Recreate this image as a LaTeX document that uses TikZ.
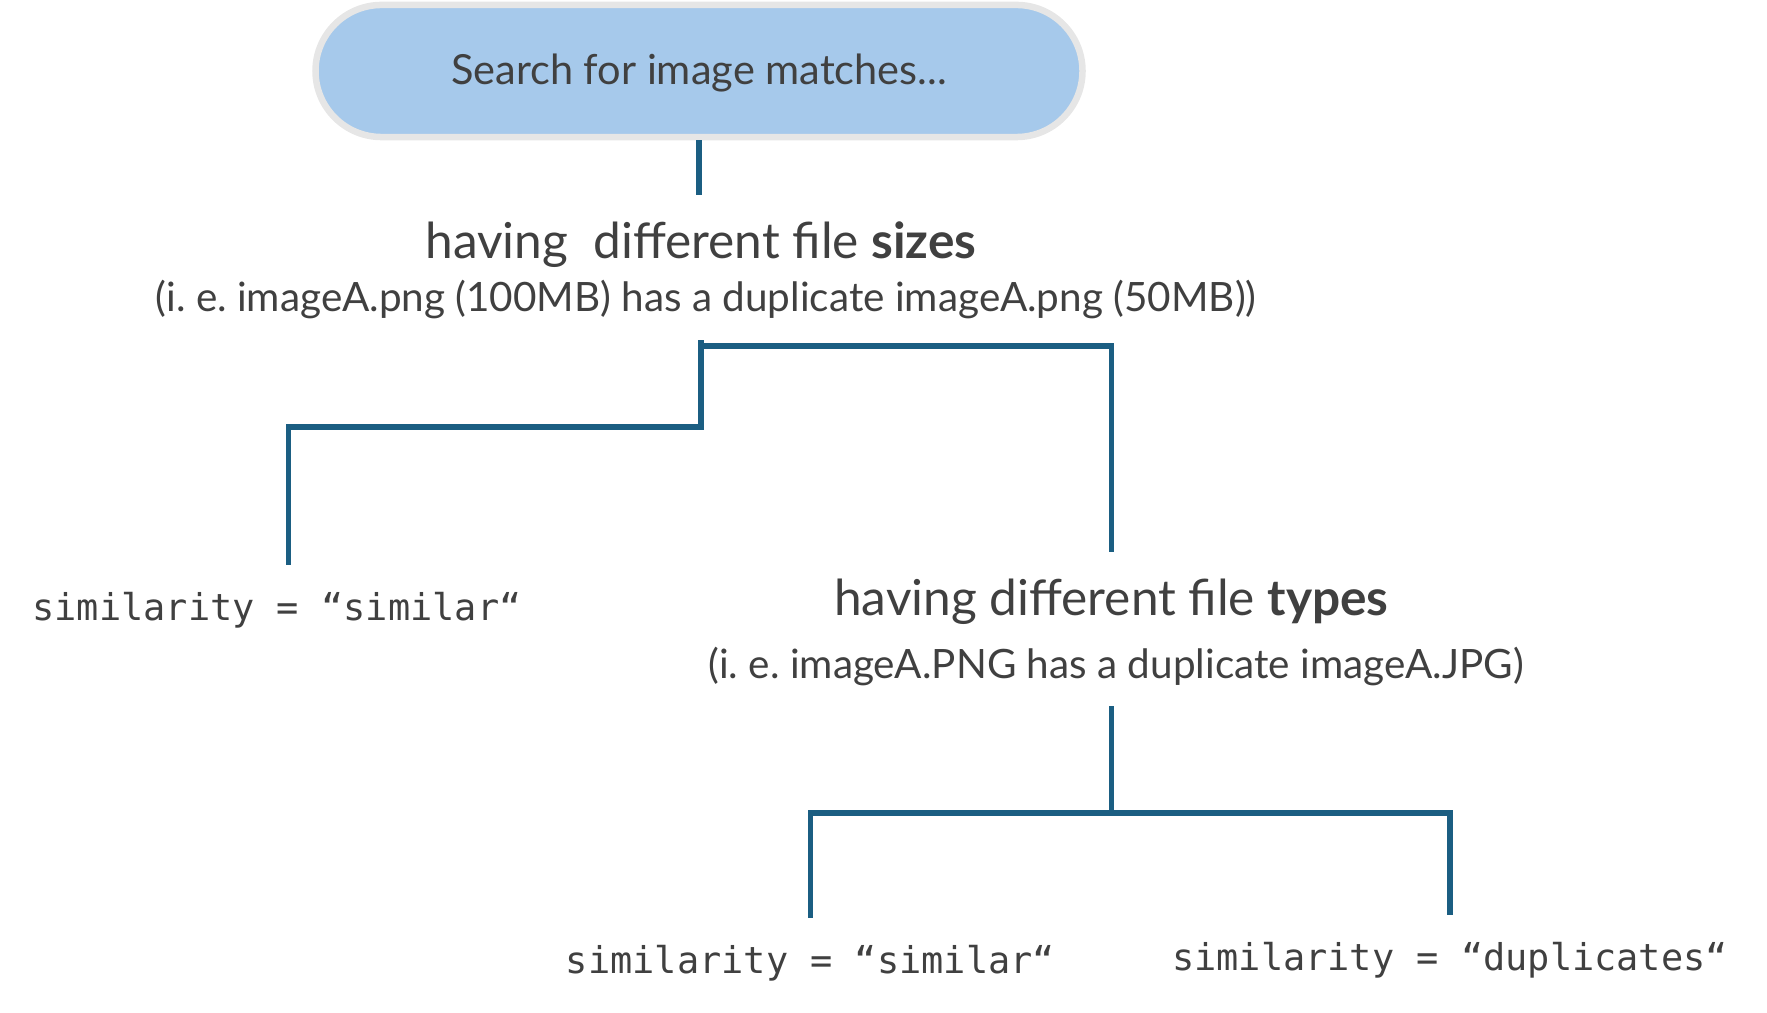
\documentclass[tikz,border=0pt]{standalone}
\usepackage{fontspec}
\setmainfont{Lato}
\setmonofont{DejaVu Sans Mono}
\usetikzlibrary{shapes.misc}
\definecolor{pillfill}{HTML}{A6C9EB}
\definecolor{pillrim}{HTML}{E6E6E6}
\definecolor{textgrey}{HTML}{404040}
\definecolor{treeblue}{HTML}{1B5E82}
\frenchspacing
\begin{document}
\begin{tikzpicture}[x=0.01cm, y=-0.01cm, text=textgrey,
            pill/.style={rounded rectangle, draw=pillrim, fill=pillfill, line width=0.065cm, minimum width=7.90cm, minimum height=1.32cm, text height=0.32cm, text depth=0.04cm, font=\fontsize{11.8}{14}\selectfont},
            head/.style={anchor=base, inner sep=0pt, text height=0.3cm, text depth=0.08cm, outer ysep=0.34cm, font=\fontsize{14.1}{17}\selectfont},
            note/.style={anchor=base, inner sep=0pt, text height=0.27cm, text depth=0.08cm, outer ysep=0.20cm, font=\fontsize{11.5}{14}\selectfont},
            code/.style={anchor=base, inner sep=0pt, text height=0.28cm, text depth=0.06cm, outer ysep=0.27cm, font=\ttfamily\fontsize{10.5}{12}\selectfont},
            link/.style={draw=treeblue, line width=0.055cm}]

        \useasboundingbox (0,0) rectangle (1767,1013);

        \node[pill] (search) at (699,71) {Search for image matches...};
        \node[head] (sizes) at (701,259) {having\ \ different file \textbf{sizes}};
        \node[note] (sizesex) at (706,312) {(i. e. imageA.png (100MB) has a duplicate imageA.png (50MB))};
        \node[code] (simA) at (277,620) {similarity = “similar“};
        \node[head] (types) at (1111.5,616) {having different file \textbf{types}};
        \node[note] (typesex) at (1116,678) {(i. e. imageA.PNG has a duplicate imageA.JPG)};
        \node[code] (simB) at (810.5,973) {similarity = “similar“};
        \node[code] (dup) at (1450,970) {similarity = “duplicates“};

        \draw[link] (search.south) -- (search.south |- sizes.north);
        \draw[link] (sizes.south |- sizesex.south) -- ++(0,87) -| ([xshift=0.115cm]simA.north);
        \draw[link] (sizes.south |- sizesex.south) ++(0,6) -| (types.north);
        \draw[link] (types.south |- typesex.south) -- ++(0,107) coordinate (fork) -| (simB.north);
        \draw[link] (fork) -| (dup.north);
    \end{tikzpicture}
\end{document}
